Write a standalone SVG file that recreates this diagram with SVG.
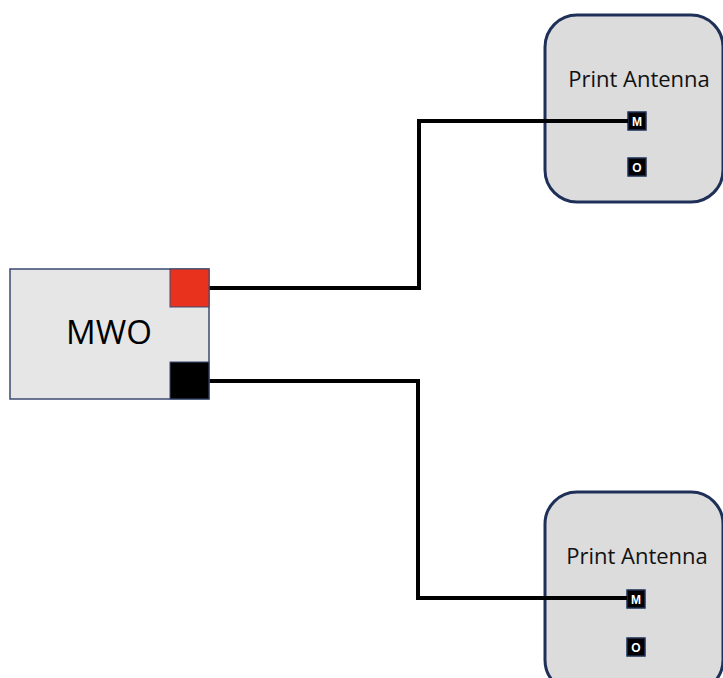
<svg xmlns="http://www.w3.org/2000/svg" width="723" height="678" viewBox="0 0 723 678">
<style>
.ant{fill:#dcdcdc;stroke:#1e3058;stroke-width:3}
.port{fill:#000;stroke:#1e3058;stroke-width:1.5}
.plab{font-family:"Liberation Sans",Arial,sans-serif;font-weight:bold;font-size:12px;fill:#fff;text-anchor:middle}
.title{font-family:"Open Sans","Liberation Sans",sans-serif;font-size:22px;fill:#111;text-anchor:middle}
.wire{fill:none;stroke:#000;stroke-width:4}
</style>
<rect width="723" height="678" fill="#fff"/>
<g id="ant1">
<rect class="ant" x="545" y="15" width="178" height="187" rx="32"/>
<text class="title" x="639" y="87">Print Antenna</text>
<g id="ant1-M"><rect class="port" x="628" y="112" width="18" height="18"/><text class="plab" x="637" y="125.5">M</text></g>
<g id="ant1-O"><rect class="port" x="628" y="158" width="18" height="18"/><text class="plab" x="637" y="171.5">O</text></g>
</g>
<g id="ant2">
<rect class="ant" x="545" y="492" width="178" height="200" rx="32"/>
<text class="title" x="637" y="564">Print Antenna</text>
<g id="ant2-M"><rect class="port" x="627" y="590" width="18" height="18"/><text class="plab" x="636" y="603.5">M</text></g>
<g id="ant2-O"><rect class="port" x="627" y="638" width="18" height="18"/><text class="plab" x="636" y="651.5">O</text></g>
</g>
<g id="connectors">
<path class="wire" d="M209 288 H419 V121 H628"/>
<path class="wire" d="M209 381 H418 V598 H627"/>
</g>
<g id="mwo">
<rect x="10" y="269" width="199" height="130" fill="#e6e6e6" stroke="#3a4a70" stroke-width="1.5"/>
<text x="109" y="344" font-family="'Open Sans','Liberation Sans',sans-serif" font-size="33" fill="#000" text-anchor="middle">MWO</text>
<rect x="170" y="269" width="39" height="38" fill="#e8321e" stroke="#3a4a70" stroke-width="1"/>
<rect x="170" y="362" width="39" height="37" fill="#000" stroke="#3a4a70" stroke-width="1"/>
</g>
</svg>
